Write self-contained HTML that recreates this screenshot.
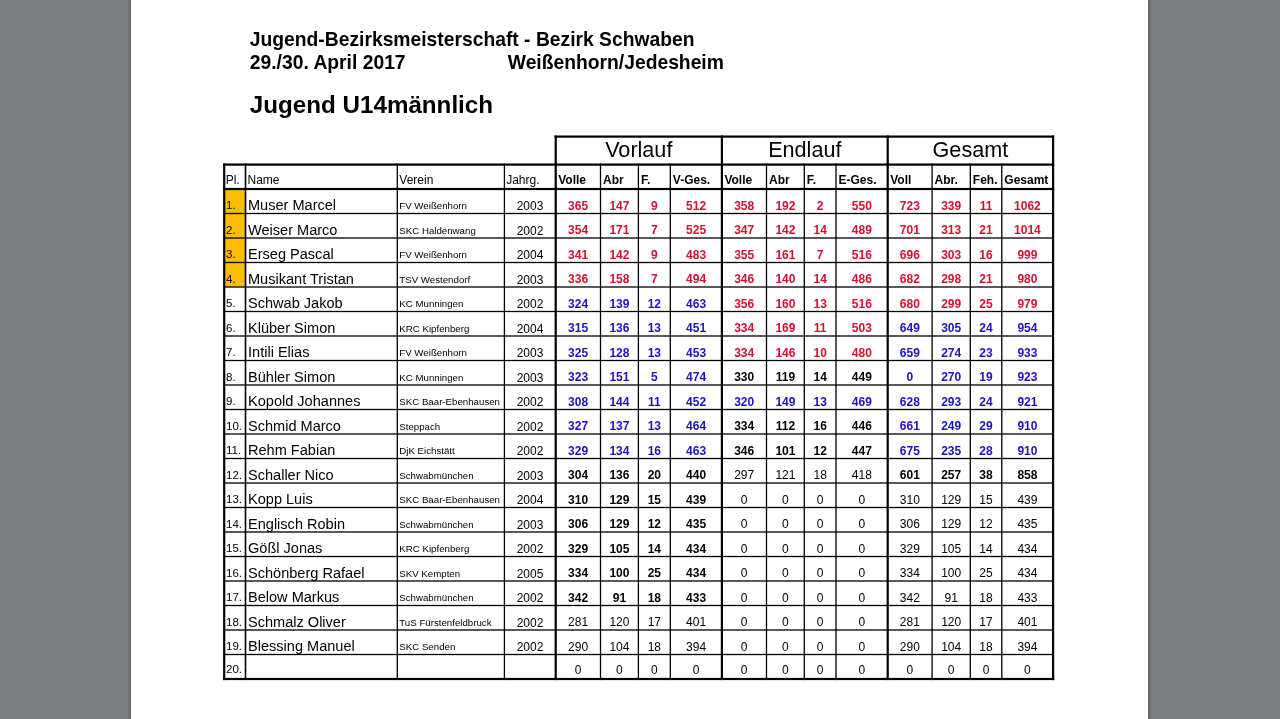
<!DOCTYPE html>
<html><head><meta charset="utf-8"><title>Jugend U14 männlich</title>
<style>
html,body{margin:0;padding:0;}
body{width:1280px;height:719px;overflow:hidden;position:relative;background:#7d7e80;font-family:"Liberation Sans",sans-serif;}
.page{position:absolute;left:131px;top:0;width:1017px;height:719px;background:#fff;}
.shl{position:absolute;left:127px;top:0;width:4px;height:719px;background:linear-gradient(to right,rgba(0,0,0,0),rgba(0,0,0,0.18));}
.shr{position:absolute;left:1148px;top:0;width:4px;height:719px;background:linear-gradient(to left,rgba(0,0,0,0),rgba(0,0,0,0.18));}
.t{position:absolute;white-space:pre;color:#000;}
svg{position:absolute;left:0;top:0;}
#wrap{position:absolute;left:0;top:0;width:1280px;height:719px;will-change:transform;}
</style></head><body>
<div id="wrap">
<div class="shl"></div><div class="shr"></div>
<div class="page"></div>
<div style="position:absolute;left:224.20px;top:189.00px;width:21.30px;height:24.50px;background:#fcbd02"></div><div style="position:absolute;left:224.20px;top:213.50px;width:21.30px;height:24.50px;background:#fcbd02"></div><div style="position:absolute;left:224.20px;top:238.00px;width:21.30px;height:24.50px;background:#fcbd02"></div><div style="position:absolute;left:224.20px;top:262.50px;width:21.30px;height:24.50px;background:#fcbd02"></div>
<svg width="1280" height="719" viewBox="0 0 1280 719" fill="#000"><rect x="554.60" y="135.50" width="499.60" height="2.20"/><rect x="554.60" y="135.50" width="2.20" height="29.10"/><rect x="720.80" y="135.50" width="2.20" height="29.10"/><rect x="886.60" y="135.50" width="2.20" height="29.10"/><rect x="1052.00" y="135.50" width="2.20" height="29.10"/><rect x="223.10" y="163.50" width="831.10" height="2.20"/><rect x="223.10" y="187.90" width="831.10" height="2.20"/><rect x="223.10" y="677.90" width="831.10" height="2.20"/><rect x="224.20" y="212.85" width="828.90" height="1.30"/><rect x="224.20" y="237.35" width="828.90" height="1.30"/><rect x="224.20" y="261.85" width="828.90" height="1.30"/><rect x="224.20" y="286.35" width="828.90" height="1.30"/><rect x="224.20" y="310.85" width="828.90" height="1.30"/><rect x="224.20" y="335.35" width="828.90" height="1.30"/><rect x="224.20" y="359.85" width="828.90" height="1.30"/><rect x="224.20" y="384.35" width="828.90" height="1.30"/><rect x="224.20" y="408.85" width="828.90" height="1.30"/><rect x="224.20" y="433.35" width="828.90" height="1.30"/><rect x="224.20" y="457.85" width="828.90" height="1.30"/><rect x="224.20" y="482.35" width="828.90" height="1.30"/><rect x="224.20" y="506.85" width="828.90" height="1.30"/><rect x="224.20" y="531.35" width="828.90" height="1.30"/><rect x="224.20" y="555.85" width="828.90" height="1.30"/><rect x="224.20" y="580.35" width="828.90" height="1.30"/><rect x="224.20" y="604.85" width="828.90" height="1.30"/><rect x="224.20" y="629.35" width="828.90" height="1.30"/><rect x="224.20" y="653.85" width="828.90" height="1.30"/><rect x="223.10" y="163.50" width="2.20" height="516.60"/><rect x="244.70" y="163.50" width="1.60" height="516.60"/><rect x="396.65" y="163.50" width="1.30" height="516.60"/><rect x="503.75" y="163.50" width="1.30" height="516.60"/><rect x="554.60" y="163.50" width="2.20" height="516.60"/><rect x="599.85" y="163.50" width="1.30" height="516.60"/><rect x="637.75" y="163.50" width="1.30" height="516.60"/><rect x="669.65" y="163.50" width="1.30" height="516.60"/><rect x="720.80" y="163.50" width="2.20" height="516.60"/><rect x="765.85" y="163.50" width="1.30" height="516.60"/><rect x="803.65" y="163.50" width="1.30" height="516.60"/><rect x="835.35" y="163.50" width="1.30" height="516.60"/><rect x="886.60" y="163.50" width="2.20" height="516.60"/><rect x="931.45" y="163.50" width="1.30" height="516.60"/><rect x="969.65" y="163.50" width="1.30" height="516.60"/><rect x="1001.15" y="163.50" width="1.30" height="516.60"/><rect x="1052.00" y="163.50" width="2.20" height="516.60"/></svg>
<div class="t" style="left:249.80px;top:29.56px;font-size:19.3px;line-height:19.3px;font-weight:bold;">Jugend-Bezirksmeisterschaft - Bezirk Schwaben</div><div class="t" style="left:249.80px;top:53.46px;font-size:19.3px;line-height:19.3px;font-weight:bold;">29./30. April 2017</div><div class="t" style="left:507.80px;top:53.46px;font-size:19.3px;line-height:19.3px;font-weight:bold;">Weißenhorn/Jedesheim</div><div class="t" style="left:249.80px;top:92.51px;font-size:24.2px;line-height:24.2px;font-weight:bold;">Jugend U14männlich</div><div class="t" style="left:555.70px;top:138.72px;font-size:21.6px;line-height:21.6px;width:166.20px;text-align:center;">Vorlauf</div><div class="t" style="left:721.90px;top:138.72px;font-size:21.6px;line-height:21.6px;width:165.80px;text-align:center;">Endlauf</div><div class="t" style="left:887.70px;top:138.72px;font-size:21.6px;line-height:21.6px;width:165.40px;text-align:center;">Gesamt</div><div class="t" style="left:225.70px;top:173.84px;font-size:12px;line-height:12px;">Pl.</div><div class="t" style="left:247.50px;top:173.84px;font-size:12px;line-height:12px;">Name</div><div class="t" style="left:399.30px;top:173.84px;font-size:12px;line-height:12px;">Verein</div><div class="t" style="left:506.20px;top:173.84px;font-size:12px;line-height:12px;">Jahrg.</div><div class="t" style="left:558.20px;top:173.84px;font-size:12px;line-height:12px;font-weight:bold;">Volle</div><div class="t" style="left:603.00px;top:173.84px;font-size:12px;line-height:12px;font-weight:bold;">Abr</div><div class="t" style="left:640.90px;top:173.84px;font-size:12px;line-height:12px;font-weight:bold;">F.</div><div class="t" style="left:672.80px;top:173.84px;font-size:12px;line-height:12px;font-weight:bold;">V-Ges.</div><div class="t" style="left:724.40px;top:173.84px;font-size:12px;line-height:12px;font-weight:bold;">Volle</div><div class="t" style="left:769.00px;top:173.84px;font-size:12px;line-height:12px;font-weight:bold;">Abr</div><div class="t" style="left:806.80px;top:173.84px;font-size:12px;line-height:12px;font-weight:bold;">F.</div><div class="t" style="left:838.50px;top:173.84px;font-size:12px;line-height:12px;font-weight:bold;">E-Ges.</div><div class="t" style="left:890.20px;top:173.84px;font-size:12px;line-height:12px;font-weight:bold;">Voll</div><div class="t" style="left:934.60px;top:173.84px;font-size:12px;line-height:12px;font-weight:bold;">Abr.</div><div class="t" style="left:972.80px;top:173.84px;font-size:12px;line-height:12px;font-weight:bold;">Feh.</div><div class="t" style="left:1004.30px;top:173.84px;font-size:12px;line-height:12px;font-weight:bold;">Gesamt</div><div class="t" style="left:226.00px;top:200.07px;font-size:11.5px;line-height:11.5px;">1.</div><div class="t" style="left:248.00px;top:198.18px;font-size:14.55px;line-height:14.55px;">Muser Marcel</div><div class="t" style="left:399.30px;top:201.49px;font-size:9.7px;line-height:9.7px;">FV Weißenhorn</div><div class="t" style="left:504.40px;top:200.44px;font-size:12px;line-height:12px;width:51.30px;text-align:center;">2003</div><div class="t" style="left:555.70px;top:199.64px;font-size:12px;line-height:12px;font-weight:bold;color:#d31230;width:44.80px;text-align:center;">365</div><div class="t" style="left:600.50px;top:199.64px;font-size:12px;line-height:12px;font-weight:bold;color:#d31230;width:37.90px;text-align:center;">147</div><div class="t" style="left:638.40px;top:199.64px;font-size:12px;line-height:12px;font-weight:bold;color:#d31230;width:31.90px;text-align:center;">9</div><div class="t" style="left:670.30px;top:199.64px;font-size:12px;line-height:12px;font-weight:bold;color:#d31230;width:51.60px;text-align:center;">512</div><div class="t" style="left:721.90px;top:199.64px;font-size:12px;line-height:12px;font-weight:bold;color:#d31230;width:44.60px;text-align:center;">358</div><div class="t" style="left:766.50px;top:199.64px;font-size:12px;line-height:12px;font-weight:bold;color:#d31230;width:37.80px;text-align:center;">192</div><div class="t" style="left:804.30px;top:199.64px;font-size:12px;line-height:12px;font-weight:bold;color:#d31230;width:31.70px;text-align:center;">2</div><div class="t" style="left:836.00px;top:199.64px;font-size:12px;line-height:12px;font-weight:bold;color:#d31230;width:51.70px;text-align:center;">550</div><div class="t" style="left:887.70px;top:199.64px;font-size:12px;line-height:12px;font-weight:bold;color:#d31230;width:44.40px;text-align:center;">723</div><div class="t" style="left:932.10px;top:199.64px;font-size:12px;line-height:12px;font-weight:bold;color:#d31230;width:38.20px;text-align:center;">339</div><div class="t" style="left:970.30px;top:199.64px;font-size:12px;line-height:12px;font-weight:bold;color:#d31230;width:31.50px;text-align:center;">11</div><div class="t" style="left:1001.80px;top:199.64px;font-size:12px;line-height:12px;font-weight:bold;color:#d31230;width:51.30px;text-align:center;">1062</div><div class="t" style="left:226.00px;top:224.57px;font-size:11.5px;line-height:11.5px;">2.</div><div class="t" style="left:248.00px;top:222.68px;font-size:14.55px;line-height:14.55px;">Weiser Marco</div><div class="t" style="left:399.30px;top:225.99px;font-size:9.7px;line-height:9.7px;">SKC Haldenwang</div><div class="t" style="left:504.40px;top:224.94px;font-size:12px;line-height:12px;width:51.30px;text-align:center;">2002</div><div class="t" style="left:555.70px;top:224.14px;font-size:12px;line-height:12px;font-weight:bold;color:#d31230;width:44.80px;text-align:center;">354</div><div class="t" style="left:600.50px;top:224.14px;font-size:12px;line-height:12px;font-weight:bold;color:#d31230;width:37.90px;text-align:center;">171</div><div class="t" style="left:638.40px;top:224.14px;font-size:12px;line-height:12px;font-weight:bold;color:#d31230;width:31.90px;text-align:center;">7</div><div class="t" style="left:670.30px;top:224.14px;font-size:12px;line-height:12px;font-weight:bold;color:#d31230;width:51.60px;text-align:center;">525</div><div class="t" style="left:721.90px;top:224.14px;font-size:12px;line-height:12px;font-weight:bold;color:#d31230;width:44.60px;text-align:center;">347</div><div class="t" style="left:766.50px;top:224.14px;font-size:12px;line-height:12px;font-weight:bold;color:#d31230;width:37.80px;text-align:center;">142</div><div class="t" style="left:804.30px;top:224.14px;font-size:12px;line-height:12px;font-weight:bold;color:#d31230;width:31.70px;text-align:center;">14</div><div class="t" style="left:836.00px;top:224.14px;font-size:12px;line-height:12px;font-weight:bold;color:#d31230;width:51.70px;text-align:center;">489</div><div class="t" style="left:887.70px;top:224.14px;font-size:12px;line-height:12px;font-weight:bold;color:#d31230;width:44.40px;text-align:center;">701</div><div class="t" style="left:932.10px;top:224.14px;font-size:12px;line-height:12px;font-weight:bold;color:#d31230;width:38.20px;text-align:center;">313</div><div class="t" style="left:970.30px;top:224.14px;font-size:12px;line-height:12px;font-weight:bold;color:#d31230;width:31.50px;text-align:center;">21</div><div class="t" style="left:1001.80px;top:224.14px;font-size:12px;line-height:12px;font-weight:bold;color:#d31230;width:51.30px;text-align:center;">1014</div><div class="t" style="left:226.00px;top:249.07px;font-size:11.5px;line-height:11.5px;">3.</div><div class="t" style="left:248.00px;top:247.18px;font-size:14.55px;line-height:14.55px;">Erseg Pascal</div><div class="t" style="left:399.30px;top:250.49px;font-size:9.7px;line-height:9.7px;">FV Weißenhorn</div><div class="t" style="left:504.40px;top:249.44px;font-size:12px;line-height:12px;width:51.30px;text-align:center;">2004</div><div class="t" style="left:555.70px;top:248.64px;font-size:12px;line-height:12px;font-weight:bold;color:#d31230;width:44.80px;text-align:center;">341</div><div class="t" style="left:600.50px;top:248.64px;font-size:12px;line-height:12px;font-weight:bold;color:#d31230;width:37.90px;text-align:center;">142</div><div class="t" style="left:638.40px;top:248.64px;font-size:12px;line-height:12px;font-weight:bold;color:#d31230;width:31.90px;text-align:center;">9</div><div class="t" style="left:670.30px;top:248.64px;font-size:12px;line-height:12px;font-weight:bold;color:#d31230;width:51.60px;text-align:center;">483</div><div class="t" style="left:721.90px;top:248.64px;font-size:12px;line-height:12px;font-weight:bold;color:#d31230;width:44.60px;text-align:center;">355</div><div class="t" style="left:766.50px;top:248.64px;font-size:12px;line-height:12px;font-weight:bold;color:#d31230;width:37.80px;text-align:center;">161</div><div class="t" style="left:804.30px;top:248.64px;font-size:12px;line-height:12px;font-weight:bold;color:#d31230;width:31.70px;text-align:center;">7</div><div class="t" style="left:836.00px;top:248.64px;font-size:12px;line-height:12px;font-weight:bold;color:#d31230;width:51.70px;text-align:center;">516</div><div class="t" style="left:887.70px;top:248.64px;font-size:12px;line-height:12px;font-weight:bold;color:#d31230;width:44.40px;text-align:center;">696</div><div class="t" style="left:932.10px;top:248.64px;font-size:12px;line-height:12px;font-weight:bold;color:#d31230;width:38.20px;text-align:center;">303</div><div class="t" style="left:970.30px;top:248.64px;font-size:12px;line-height:12px;font-weight:bold;color:#d31230;width:31.50px;text-align:center;">16</div><div class="t" style="left:1001.80px;top:248.64px;font-size:12px;line-height:12px;font-weight:bold;color:#d31230;width:51.30px;text-align:center;">999</div><div class="t" style="left:226.00px;top:273.57px;font-size:11.5px;line-height:11.5px;">4.</div><div class="t" style="left:248.00px;top:271.68px;font-size:14.55px;line-height:14.55px;">Musikant Tristan</div><div class="t" style="left:399.30px;top:274.99px;font-size:9.7px;line-height:9.7px;">TSV Westendorf</div><div class="t" style="left:504.40px;top:273.94px;font-size:12px;line-height:12px;width:51.30px;text-align:center;">2003</div><div class="t" style="left:555.70px;top:273.14px;font-size:12px;line-height:12px;font-weight:bold;color:#d31230;width:44.80px;text-align:center;">336</div><div class="t" style="left:600.50px;top:273.14px;font-size:12px;line-height:12px;font-weight:bold;color:#d31230;width:37.90px;text-align:center;">158</div><div class="t" style="left:638.40px;top:273.14px;font-size:12px;line-height:12px;font-weight:bold;color:#d31230;width:31.90px;text-align:center;">7</div><div class="t" style="left:670.30px;top:273.14px;font-size:12px;line-height:12px;font-weight:bold;color:#d31230;width:51.60px;text-align:center;">494</div><div class="t" style="left:721.90px;top:273.14px;font-size:12px;line-height:12px;font-weight:bold;color:#d31230;width:44.60px;text-align:center;">346</div><div class="t" style="left:766.50px;top:273.14px;font-size:12px;line-height:12px;font-weight:bold;color:#d31230;width:37.80px;text-align:center;">140</div><div class="t" style="left:804.30px;top:273.14px;font-size:12px;line-height:12px;font-weight:bold;color:#d31230;width:31.70px;text-align:center;">14</div><div class="t" style="left:836.00px;top:273.14px;font-size:12px;line-height:12px;font-weight:bold;color:#d31230;width:51.70px;text-align:center;">486</div><div class="t" style="left:887.70px;top:273.14px;font-size:12px;line-height:12px;font-weight:bold;color:#d31230;width:44.40px;text-align:center;">682</div><div class="t" style="left:932.10px;top:273.14px;font-size:12px;line-height:12px;font-weight:bold;color:#d31230;width:38.20px;text-align:center;">298</div><div class="t" style="left:970.30px;top:273.14px;font-size:12px;line-height:12px;font-weight:bold;color:#d31230;width:31.50px;text-align:center;">21</div><div class="t" style="left:1001.80px;top:273.14px;font-size:12px;line-height:12px;font-weight:bold;color:#d31230;width:51.30px;text-align:center;">980</div><div class="t" style="left:226.00px;top:298.07px;font-size:11.5px;line-height:11.5px;">5.</div><div class="t" style="left:248.00px;top:296.18px;font-size:14.55px;line-height:14.55px;">Schwab Jakob</div><div class="t" style="left:399.30px;top:299.49px;font-size:9.7px;line-height:9.7px;">KC Munningen</div><div class="t" style="left:504.40px;top:298.44px;font-size:12px;line-height:12px;width:51.30px;text-align:center;">2002</div><div class="t" style="left:555.70px;top:297.64px;font-size:12px;line-height:12px;font-weight:bold;color:#1c12c2;width:44.80px;text-align:center;">324</div><div class="t" style="left:600.50px;top:297.64px;font-size:12px;line-height:12px;font-weight:bold;color:#1c12c2;width:37.90px;text-align:center;">139</div><div class="t" style="left:638.40px;top:297.64px;font-size:12px;line-height:12px;font-weight:bold;color:#1c12c2;width:31.90px;text-align:center;">12</div><div class="t" style="left:670.30px;top:297.64px;font-size:12px;line-height:12px;font-weight:bold;color:#1c12c2;width:51.60px;text-align:center;">463</div><div class="t" style="left:721.90px;top:297.64px;font-size:12px;line-height:12px;font-weight:bold;color:#d31230;width:44.60px;text-align:center;">356</div><div class="t" style="left:766.50px;top:297.64px;font-size:12px;line-height:12px;font-weight:bold;color:#d31230;width:37.80px;text-align:center;">160</div><div class="t" style="left:804.30px;top:297.64px;font-size:12px;line-height:12px;font-weight:bold;color:#d31230;width:31.70px;text-align:center;">13</div><div class="t" style="left:836.00px;top:297.64px;font-size:12px;line-height:12px;font-weight:bold;color:#d31230;width:51.70px;text-align:center;">516</div><div class="t" style="left:887.70px;top:297.64px;font-size:12px;line-height:12px;font-weight:bold;color:#d31230;width:44.40px;text-align:center;">680</div><div class="t" style="left:932.10px;top:297.64px;font-size:12px;line-height:12px;font-weight:bold;color:#d31230;width:38.20px;text-align:center;">299</div><div class="t" style="left:970.30px;top:297.64px;font-size:12px;line-height:12px;font-weight:bold;color:#d31230;width:31.50px;text-align:center;">25</div><div class="t" style="left:1001.80px;top:297.64px;font-size:12px;line-height:12px;font-weight:bold;color:#d31230;width:51.30px;text-align:center;">979</div><div class="t" style="left:226.00px;top:322.57px;font-size:11.5px;line-height:11.5px;">6.</div><div class="t" style="left:248.00px;top:320.68px;font-size:14.55px;line-height:14.55px;">Klüber Simon</div><div class="t" style="left:399.30px;top:323.99px;font-size:9.7px;line-height:9.7px;">KRC Kipfenberg</div><div class="t" style="left:504.40px;top:322.94px;font-size:12px;line-height:12px;width:51.30px;text-align:center;">2004</div><div class="t" style="left:555.70px;top:322.14px;font-size:12px;line-height:12px;font-weight:bold;color:#1c12c2;width:44.80px;text-align:center;">315</div><div class="t" style="left:600.50px;top:322.14px;font-size:12px;line-height:12px;font-weight:bold;color:#1c12c2;width:37.90px;text-align:center;">136</div><div class="t" style="left:638.40px;top:322.14px;font-size:12px;line-height:12px;font-weight:bold;color:#1c12c2;width:31.90px;text-align:center;">13</div><div class="t" style="left:670.30px;top:322.14px;font-size:12px;line-height:12px;font-weight:bold;color:#1c12c2;width:51.60px;text-align:center;">451</div><div class="t" style="left:721.90px;top:322.14px;font-size:12px;line-height:12px;font-weight:bold;color:#d31230;width:44.60px;text-align:center;">334</div><div class="t" style="left:766.50px;top:322.14px;font-size:12px;line-height:12px;font-weight:bold;color:#d31230;width:37.80px;text-align:center;">169</div><div class="t" style="left:804.30px;top:322.14px;font-size:12px;line-height:12px;font-weight:bold;color:#d31230;width:31.70px;text-align:center;">11</div><div class="t" style="left:836.00px;top:322.14px;font-size:12px;line-height:12px;font-weight:bold;color:#d31230;width:51.70px;text-align:center;">503</div><div class="t" style="left:887.70px;top:322.14px;font-size:12px;line-height:12px;font-weight:bold;color:#1c12c2;width:44.40px;text-align:center;">649</div><div class="t" style="left:932.10px;top:322.14px;font-size:12px;line-height:12px;font-weight:bold;color:#1c12c2;width:38.20px;text-align:center;">305</div><div class="t" style="left:970.30px;top:322.14px;font-size:12px;line-height:12px;font-weight:bold;color:#1c12c2;width:31.50px;text-align:center;">24</div><div class="t" style="left:1001.80px;top:322.14px;font-size:12px;line-height:12px;font-weight:bold;color:#1c12c2;width:51.30px;text-align:center;">954</div><div class="t" style="left:226.00px;top:347.07px;font-size:11.5px;line-height:11.5px;">7.</div><div class="t" style="left:248.00px;top:345.18px;font-size:14.55px;line-height:14.55px;">Intili Elias</div><div class="t" style="left:399.30px;top:348.49px;font-size:9.7px;line-height:9.7px;">FV Weißenhorn</div><div class="t" style="left:504.40px;top:347.44px;font-size:12px;line-height:12px;width:51.30px;text-align:center;">2003</div><div class="t" style="left:555.70px;top:346.64px;font-size:12px;line-height:12px;font-weight:bold;color:#1c12c2;width:44.80px;text-align:center;">325</div><div class="t" style="left:600.50px;top:346.64px;font-size:12px;line-height:12px;font-weight:bold;color:#1c12c2;width:37.90px;text-align:center;">128</div><div class="t" style="left:638.40px;top:346.64px;font-size:12px;line-height:12px;font-weight:bold;color:#1c12c2;width:31.90px;text-align:center;">13</div><div class="t" style="left:670.30px;top:346.64px;font-size:12px;line-height:12px;font-weight:bold;color:#1c12c2;width:51.60px;text-align:center;">453</div><div class="t" style="left:721.90px;top:346.64px;font-size:12px;line-height:12px;font-weight:bold;color:#d31230;width:44.60px;text-align:center;">334</div><div class="t" style="left:766.50px;top:346.64px;font-size:12px;line-height:12px;font-weight:bold;color:#d31230;width:37.80px;text-align:center;">146</div><div class="t" style="left:804.30px;top:346.64px;font-size:12px;line-height:12px;font-weight:bold;color:#d31230;width:31.70px;text-align:center;">10</div><div class="t" style="left:836.00px;top:346.64px;font-size:12px;line-height:12px;font-weight:bold;color:#d31230;width:51.70px;text-align:center;">480</div><div class="t" style="left:887.70px;top:346.64px;font-size:12px;line-height:12px;font-weight:bold;color:#1c12c2;width:44.40px;text-align:center;">659</div><div class="t" style="left:932.10px;top:346.64px;font-size:12px;line-height:12px;font-weight:bold;color:#1c12c2;width:38.20px;text-align:center;">274</div><div class="t" style="left:970.30px;top:346.64px;font-size:12px;line-height:12px;font-weight:bold;color:#1c12c2;width:31.50px;text-align:center;">23</div><div class="t" style="left:1001.80px;top:346.64px;font-size:12px;line-height:12px;font-weight:bold;color:#1c12c2;width:51.30px;text-align:center;">933</div><div class="t" style="left:226.00px;top:371.57px;font-size:11.5px;line-height:11.5px;">8.</div><div class="t" style="left:248.00px;top:369.68px;font-size:14.55px;line-height:14.55px;">Bühler Simon</div><div class="t" style="left:399.30px;top:372.99px;font-size:9.7px;line-height:9.7px;">KC Munningen</div><div class="t" style="left:504.40px;top:371.94px;font-size:12px;line-height:12px;width:51.30px;text-align:center;">2003</div><div class="t" style="left:555.70px;top:371.14px;font-size:12px;line-height:12px;font-weight:bold;color:#1c12c2;width:44.80px;text-align:center;">323</div><div class="t" style="left:600.50px;top:371.14px;font-size:12px;line-height:12px;font-weight:bold;color:#1c12c2;width:37.90px;text-align:center;">151</div><div class="t" style="left:638.40px;top:371.14px;font-size:12px;line-height:12px;font-weight:bold;color:#1c12c2;width:31.90px;text-align:center;">5</div><div class="t" style="left:670.30px;top:371.14px;font-size:12px;line-height:12px;font-weight:bold;color:#1c12c2;width:51.60px;text-align:center;">474</div><div class="t" style="left:721.90px;top:371.14px;font-size:12px;line-height:12px;font-weight:bold;width:44.60px;text-align:center;">330</div><div class="t" style="left:766.50px;top:371.14px;font-size:12px;line-height:12px;font-weight:bold;width:37.80px;text-align:center;">119</div><div class="t" style="left:804.30px;top:371.14px;font-size:12px;line-height:12px;font-weight:bold;width:31.70px;text-align:center;">14</div><div class="t" style="left:836.00px;top:371.14px;font-size:12px;line-height:12px;font-weight:bold;width:51.70px;text-align:center;">449</div><div class="t" style="left:887.70px;top:371.14px;font-size:12px;line-height:12px;font-weight:bold;color:#1c12c2;width:44.40px;text-align:center;">0</div><div class="t" style="left:932.10px;top:371.14px;font-size:12px;line-height:12px;font-weight:bold;color:#1c12c2;width:38.20px;text-align:center;">270</div><div class="t" style="left:970.30px;top:371.14px;font-size:12px;line-height:12px;font-weight:bold;color:#1c12c2;width:31.50px;text-align:center;">19</div><div class="t" style="left:1001.80px;top:371.14px;font-size:12px;line-height:12px;font-weight:bold;color:#1c12c2;width:51.30px;text-align:center;">923</div><div class="t" style="left:226.00px;top:396.07px;font-size:11.5px;line-height:11.5px;">9.</div><div class="t" style="left:248.00px;top:394.18px;font-size:14.55px;line-height:14.55px;">Kopold Johannes</div><div class="t" style="left:399.30px;top:397.49px;font-size:9.7px;line-height:9.7px;">SKC Baar-Ebenhausen</div><div class="t" style="left:504.40px;top:396.44px;font-size:12px;line-height:12px;width:51.30px;text-align:center;">2002</div><div class="t" style="left:555.70px;top:395.64px;font-size:12px;line-height:12px;font-weight:bold;color:#1c12c2;width:44.80px;text-align:center;">308</div><div class="t" style="left:600.50px;top:395.64px;font-size:12px;line-height:12px;font-weight:bold;color:#1c12c2;width:37.90px;text-align:center;">144</div><div class="t" style="left:638.40px;top:395.64px;font-size:12px;line-height:12px;font-weight:bold;color:#1c12c2;width:31.90px;text-align:center;">11</div><div class="t" style="left:670.30px;top:395.64px;font-size:12px;line-height:12px;font-weight:bold;color:#1c12c2;width:51.60px;text-align:center;">452</div><div class="t" style="left:721.90px;top:395.64px;font-size:12px;line-height:12px;font-weight:bold;color:#1c12c2;width:44.60px;text-align:center;">320</div><div class="t" style="left:766.50px;top:395.64px;font-size:12px;line-height:12px;font-weight:bold;color:#1c12c2;width:37.80px;text-align:center;">149</div><div class="t" style="left:804.30px;top:395.64px;font-size:12px;line-height:12px;font-weight:bold;color:#1c12c2;width:31.70px;text-align:center;">13</div><div class="t" style="left:836.00px;top:395.64px;font-size:12px;line-height:12px;font-weight:bold;color:#1c12c2;width:51.70px;text-align:center;">469</div><div class="t" style="left:887.70px;top:395.64px;font-size:12px;line-height:12px;font-weight:bold;color:#1c12c2;width:44.40px;text-align:center;">628</div><div class="t" style="left:932.10px;top:395.64px;font-size:12px;line-height:12px;font-weight:bold;color:#1c12c2;width:38.20px;text-align:center;">293</div><div class="t" style="left:970.30px;top:395.64px;font-size:12px;line-height:12px;font-weight:bold;color:#1c12c2;width:31.50px;text-align:center;">24</div><div class="t" style="left:1001.80px;top:395.64px;font-size:12px;line-height:12px;font-weight:bold;color:#1c12c2;width:51.30px;text-align:center;">921</div><div class="t" style="left:226.00px;top:420.57px;font-size:11.5px;line-height:11.5px;">10.</div><div class="t" style="left:248.00px;top:418.68px;font-size:14.55px;line-height:14.55px;">Schmid Marco</div><div class="t" style="left:399.30px;top:421.99px;font-size:9.7px;line-height:9.7px;">Steppach</div><div class="t" style="left:504.40px;top:420.94px;font-size:12px;line-height:12px;width:51.30px;text-align:center;">2002</div><div class="t" style="left:555.70px;top:420.14px;font-size:12px;line-height:12px;font-weight:bold;color:#1c12c2;width:44.80px;text-align:center;">327</div><div class="t" style="left:600.50px;top:420.14px;font-size:12px;line-height:12px;font-weight:bold;color:#1c12c2;width:37.90px;text-align:center;">137</div><div class="t" style="left:638.40px;top:420.14px;font-size:12px;line-height:12px;font-weight:bold;color:#1c12c2;width:31.90px;text-align:center;">13</div><div class="t" style="left:670.30px;top:420.14px;font-size:12px;line-height:12px;font-weight:bold;color:#1c12c2;width:51.60px;text-align:center;">464</div><div class="t" style="left:721.90px;top:420.14px;font-size:12px;line-height:12px;font-weight:bold;width:44.60px;text-align:center;">334</div><div class="t" style="left:766.50px;top:420.14px;font-size:12px;line-height:12px;font-weight:bold;width:37.80px;text-align:center;">112</div><div class="t" style="left:804.30px;top:420.14px;font-size:12px;line-height:12px;font-weight:bold;width:31.70px;text-align:center;">16</div><div class="t" style="left:836.00px;top:420.14px;font-size:12px;line-height:12px;font-weight:bold;width:51.70px;text-align:center;">446</div><div class="t" style="left:887.70px;top:420.14px;font-size:12px;line-height:12px;font-weight:bold;color:#1c12c2;width:44.40px;text-align:center;">661</div><div class="t" style="left:932.10px;top:420.14px;font-size:12px;line-height:12px;font-weight:bold;color:#1c12c2;width:38.20px;text-align:center;">249</div><div class="t" style="left:970.30px;top:420.14px;font-size:12px;line-height:12px;font-weight:bold;color:#1c12c2;width:31.50px;text-align:center;">29</div><div class="t" style="left:1001.80px;top:420.14px;font-size:12px;line-height:12px;font-weight:bold;color:#1c12c2;width:51.30px;text-align:center;">910</div><div class="t" style="left:226.00px;top:445.07px;font-size:11.5px;line-height:11.5px;">11.</div><div class="t" style="left:248.00px;top:443.18px;font-size:14.55px;line-height:14.55px;">Rehm Fabian</div><div class="t" style="left:399.30px;top:446.49px;font-size:9.7px;line-height:9.7px;">DjK Eichstätt</div><div class="t" style="left:504.40px;top:445.44px;font-size:12px;line-height:12px;width:51.30px;text-align:center;">2002</div><div class="t" style="left:555.70px;top:444.64px;font-size:12px;line-height:12px;font-weight:bold;color:#1c12c2;width:44.80px;text-align:center;">329</div><div class="t" style="left:600.50px;top:444.64px;font-size:12px;line-height:12px;font-weight:bold;color:#1c12c2;width:37.90px;text-align:center;">134</div><div class="t" style="left:638.40px;top:444.64px;font-size:12px;line-height:12px;font-weight:bold;color:#1c12c2;width:31.90px;text-align:center;">16</div><div class="t" style="left:670.30px;top:444.64px;font-size:12px;line-height:12px;font-weight:bold;color:#1c12c2;width:51.60px;text-align:center;">463</div><div class="t" style="left:721.90px;top:444.64px;font-size:12px;line-height:12px;font-weight:bold;width:44.60px;text-align:center;">346</div><div class="t" style="left:766.50px;top:444.64px;font-size:12px;line-height:12px;font-weight:bold;width:37.80px;text-align:center;">101</div><div class="t" style="left:804.30px;top:444.64px;font-size:12px;line-height:12px;font-weight:bold;width:31.70px;text-align:center;">12</div><div class="t" style="left:836.00px;top:444.64px;font-size:12px;line-height:12px;font-weight:bold;width:51.70px;text-align:center;">447</div><div class="t" style="left:887.70px;top:444.64px;font-size:12px;line-height:12px;font-weight:bold;color:#1c12c2;width:44.40px;text-align:center;">675</div><div class="t" style="left:932.10px;top:444.64px;font-size:12px;line-height:12px;font-weight:bold;color:#1c12c2;width:38.20px;text-align:center;">235</div><div class="t" style="left:970.30px;top:444.64px;font-size:12px;line-height:12px;font-weight:bold;color:#1c12c2;width:31.50px;text-align:center;">28</div><div class="t" style="left:1001.80px;top:444.64px;font-size:12px;line-height:12px;font-weight:bold;color:#1c12c2;width:51.30px;text-align:center;">910</div><div class="t" style="left:226.00px;top:469.57px;font-size:11.5px;line-height:11.5px;">12.</div><div class="t" style="left:248.00px;top:467.68px;font-size:14.55px;line-height:14.55px;">Schaller Nico</div><div class="t" style="left:399.30px;top:470.99px;font-size:9.7px;line-height:9.7px;">Schwabmünchen</div><div class="t" style="left:504.40px;top:469.94px;font-size:12px;line-height:12px;width:51.30px;text-align:center;">2003</div><div class="t" style="left:555.70px;top:469.14px;font-size:12px;line-height:12px;font-weight:bold;width:44.80px;text-align:center;">304</div><div class="t" style="left:600.50px;top:469.14px;font-size:12px;line-height:12px;font-weight:bold;width:37.90px;text-align:center;">136</div><div class="t" style="left:638.40px;top:469.14px;font-size:12px;line-height:12px;font-weight:bold;width:31.90px;text-align:center;">20</div><div class="t" style="left:670.30px;top:469.14px;font-size:12px;line-height:12px;font-weight:bold;width:51.60px;text-align:center;">440</div><div class="t" style="left:721.90px;top:469.14px;font-size:12px;line-height:12px;width:44.60px;text-align:center;">297</div><div class="t" style="left:766.50px;top:469.14px;font-size:12px;line-height:12px;width:37.80px;text-align:center;">121</div><div class="t" style="left:804.30px;top:469.14px;font-size:12px;line-height:12px;width:31.70px;text-align:center;">18</div><div class="t" style="left:836.00px;top:469.14px;font-size:12px;line-height:12px;width:51.70px;text-align:center;">418</div><div class="t" style="left:887.70px;top:469.14px;font-size:12px;line-height:12px;font-weight:bold;width:44.40px;text-align:center;">601</div><div class="t" style="left:932.10px;top:469.14px;font-size:12px;line-height:12px;font-weight:bold;width:38.20px;text-align:center;">257</div><div class="t" style="left:970.30px;top:469.14px;font-size:12px;line-height:12px;font-weight:bold;width:31.50px;text-align:center;">38</div><div class="t" style="left:1001.80px;top:469.14px;font-size:12px;line-height:12px;font-weight:bold;width:51.30px;text-align:center;">858</div><div class="t" style="left:226.00px;top:494.07px;font-size:11.5px;line-height:11.5px;">13.</div><div class="t" style="left:248.00px;top:492.18px;font-size:14.55px;line-height:14.55px;">Kopp Luis</div><div class="t" style="left:399.30px;top:495.49px;font-size:9.7px;line-height:9.7px;">SKC Baar-Ebenhausen</div><div class="t" style="left:504.40px;top:494.44px;font-size:12px;line-height:12px;width:51.30px;text-align:center;">2004</div><div class="t" style="left:555.70px;top:493.64px;font-size:12px;line-height:12px;font-weight:bold;width:44.80px;text-align:center;">310</div><div class="t" style="left:600.50px;top:493.64px;font-size:12px;line-height:12px;font-weight:bold;width:37.90px;text-align:center;">129</div><div class="t" style="left:638.40px;top:493.64px;font-size:12px;line-height:12px;font-weight:bold;width:31.90px;text-align:center;">15</div><div class="t" style="left:670.30px;top:493.64px;font-size:12px;line-height:12px;font-weight:bold;width:51.60px;text-align:center;">439</div><div class="t" style="left:721.90px;top:493.64px;font-size:12px;line-height:12px;width:44.60px;text-align:center;">0</div><div class="t" style="left:766.50px;top:493.64px;font-size:12px;line-height:12px;width:37.80px;text-align:center;">0</div><div class="t" style="left:804.30px;top:493.64px;font-size:12px;line-height:12px;width:31.70px;text-align:center;">0</div><div class="t" style="left:836.00px;top:493.64px;font-size:12px;line-height:12px;width:51.70px;text-align:center;">0</div><div class="t" style="left:887.70px;top:493.64px;font-size:12px;line-height:12px;width:44.40px;text-align:center;">310</div><div class="t" style="left:932.10px;top:493.64px;font-size:12px;line-height:12px;width:38.20px;text-align:center;">129</div><div class="t" style="left:970.30px;top:493.64px;font-size:12px;line-height:12px;width:31.50px;text-align:center;">15</div><div class="t" style="left:1001.80px;top:493.64px;font-size:12px;line-height:12px;width:51.30px;text-align:center;">439</div><div class="t" style="left:226.00px;top:518.57px;font-size:11.5px;line-height:11.5px;">14.</div><div class="t" style="left:248.00px;top:516.68px;font-size:14.55px;line-height:14.55px;">Englisch Robin</div><div class="t" style="left:399.30px;top:519.99px;font-size:9.7px;line-height:9.7px;">Schwabmünchen</div><div class="t" style="left:504.40px;top:518.94px;font-size:12px;line-height:12px;width:51.30px;text-align:center;">2003</div><div class="t" style="left:555.70px;top:518.14px;font-size:12px;line-height:12px;font-weight:bold;width:44.80px;text-align:center;">306</div><div class="t" style="left:600.50px;top:518.14px;font-size:12px;line-height:12px;font-weight:bold;width:37.90px;text-align:center;">129</div><div class="t" style="left:638.40px;top:518.14px;font-size:12px;line-height:12px;font-weight:bold;width:31.90px;text-align:center;">12</div><div class="t" style="left:670.30px;top:518.14px;font-size:12px;line-height:12px;font-weight:bold;width:51.60px;text-align:center;">435</div><div class="t" style="left:721.90px;top:518.14px;font-size:12px;line-height:12px;width:44.60px;text-align:center;">0</div><div class="t" style="left:766.50px;top:518.14px;font-size:12px;line-height:12px;width:37.80px;text-align:center;">0</div><div class="t" style="left:804.30px;top:518.14px;font-size:12px;line-height:12px;width:31.70px;text-align:center;">0</div><div class="t" style="left:836.00px;top:518.14px;font-size:12px;line-height:12px;width:51.70px;text-align:center;">0</div><div class="t" style="left:887.70px;top:518.14px;font-size:12px;line-height:12px;width:44.40px;text-align:center;">306</div><div class="t" style="left:932.10px;top:518.14px;font-size:12px;line-height:12px;width:38.20px;text-align:center;">129</div><div class="t" style="left:970.30px;top:518.14px;font-size:12px;line-height:12px;width:31.50px;text-align:center;">12</div><div class="t" style="left:1001.80px;top:518.14px;font-size:12px;line-height:12px;width:51.30px;text-align:center;">435</div><div class="t" style="left:226.00px;top:543.07px;font-size:11.5px;line-height:11.5px;">15.</div><div class="t" style="left:248.00px;top:541.18px;font-size:14.55px;line-height:14.55px;">Gößl Jonas</div><div class="t" style="left:399.30px;top:544.49px;font-size:9.7px;line-height:9.7px;">KRC Kipfenberg</div><div class="t" style="left:504.40px;top:543.44px;font-size:12px;line-height:12px;width:51.30px;text-align:center;">2002</div><div class="t" style="left:555.70px;top:542.64px;font-size:12px;line-height:12px;font-weight:bold;width:44.80px;text-align:center;">329</div><div class="t" style="left:600.50px;top:542.64px;font-size:12px;line-height:12px;font-weight:bold;width:37.90px;text-align:center;">105</div><div class="t" style="left:638.40px;top:542.64px;font-size:12px;line-height:12px;font-weight:bold;width:31.90px;text-align:center;">14</div><div class="t" style="left:670.30px;top:542.64px;font-size:12px;line-height:12px;font-weight:bold;width:51.60px;text-align:center;">434</div><div class="t" style="left:721.90px;top:542.64px;font-size:12px;line-height:12px;width:44.60px;text-align:center;">0</div><div class="t" style="left:766.50px;top:542.64px;font-size:12px;line-height:12px;width:37.80px;text-align:center;">0</div><div class="t" style="left:804.30px;top:542.64px;font-size:12px;line-height:12px;width:31.70px;text-align:center;">0</div><div class="t" style="left:836.00px;top:542.64px;font-size:12px;line-height:12px;width:51.70px;text-align:center;">0</div><div class="t" style="left:887.70px;top:542.64px;font-size:12px;line-height:12px;width:44.40px;text-align:center;">329</div><div class="t" style="left:932.10px;top:542.64px;font-size:12px;line-height:12px;width:38.20px;text-align:center;">105</div><div class="t" style="left:970.30px;top:542.64px;font-size:12px;line-height:12px;width:31.50px;text-align:center;">14</div><div class="t" style="left:1001.80px;top:542.64px;font-size:12px;line-height:12px;width:51.30px;text-align:center;">434</div><div class="t" style="left:226.00px;top:567.57px;font-size:11.5px;line-height:11.5px;">16.</div><div class="t" style="left:248.00px;top:565.68px;font-size:14.55px;line-height:14.55px;">Schönberg Rafael</div><div class="t" style="left:399.30px;top:568.99px;font-size:9.7px;line-height:9.7px;">SKV Kempten</div><div class="t" style="left:504.40px;top:567.94px;font-size:12px;line-height:12px;width:51.30px;text-align:center;">2005</div><div class="t" style="left:555.70px;top:567.14px;font-size:12px;line-height:12px;font-weight:bold;width:44.80px;text-align:center;">334</div><div class="t" style="left:600.50px;top:567.14px;font-size:12px;line-height:12px;font-weight:bold;width:37.90px;text-align:center;">100</div><div class="t" style="left:638.40px;top:567.14px;font-size:12px;line-height:12px;font-weight:bold;width:31.90px;text-align:center;">25</div><div class="t" style="left:670.30px;top:567.14px;font-size:12px;line-height:12px;font-weight:bold;width:51.60px;text-align:center;">434</div><div class="t" style="left:721.90px;top:567.14px;font-size:12px;line-height:12px;width:44.60px;text-align:center;">0</div><div class="t" style="left:766.50px;top:567.14px;font-size:12px;line-height:12px;width:37.80px;text-align:center;">0</div><div class="t" style="left:804.30px;top:567.14px;font-size:12px;line-height:12px;width:31.70px;text-align:center;">0</div><div class="t" style="left:836.00px;top:567.14px;font-size:12px;line-height:12px;width:51.70px;text-align:center;">0</div><div class="t" style="left:887.70px;top:567.14px;font-size:12px;line-height:12px;width:44.40px;text-align:center;">334</div><div class="t" style="left:932.10px;top:567.14px;font-size:12px;line-height:12px;width:38.20px;text-align:center;">100</div><div class="t" style="left:970.30px;top:567.14px;font-size:12px;line-height:12px;width:31.50px;text-align:center;">25</div><div class="t" style="left:1001.80px;top:567.14px;font-size:12px;line-height:12px;width:51.30px;text-align:center;">434</div><div class="t" style="left:226.00px;top:592.07px;font-size:11.5px;line-height:11.5px;">17.</div><div class="t" style="left:248.00px;top:590.18px;font-size:14.55px;line-height:14.55px;">Below Markus</div><div class="t" style="left:399.30px;top:593.49px;font-size:9.7px;line-height:9.7px;">Schwabmünchen</div><div class="t" style="left:504.40px;top:592.44px;font-size:12px;line-height:12px;width:51.30px;text-align:center;">2002</div><div class="t" style="left:555.70px;top:591.64px;font-size:12px;line-height:12px;font-weight:bold;width:44.80px;text-align:center;">342</div><div class="t" style="left:600.50px;top:591.64px;font-size:12px;line-height:12px;font-weight:bold;width:37.90px;text-align:center;">91</div><div class="t" style="left:638.40px;top:591.64px;font-size:12px;line-height:12px;font-weight:bold;width:31.90px;text-align:center;">18</div><div class="t" style="left:670.30px;top:591.64px;font-size:12px;line-height:12px;font-weight:bold;width:51.60px;text-align:center;">433</div><div class="t" style="left:721.90px;top:591.64px;font-size:12px;line-height:12px;width:44.60px;text-align:center;">0</div><div class="t" style="left:766.50px;top:591.64px;font-size:12px;line-height:12px;width:37.80px;text-align:center;">0</div><div class="t" style="left:804.30px;top:591.64px;font-size:12px;line-height:12px;width:31.70px;text-align:center;">0</div><div class="t" style="left:836.00px;top:591.64px;font-size:12px;line-height:12px;width:51.70px;text-align:center;">0</div><div class="t" style="left:887.70px;top:591.64px;font-size:12px;line-height:12px;width:44.40px;text-align:center;">342</div><div class="t" style="left:932.10px;top:591.64px;font-size:12px;line-height:12px;width:38.20px;text-align:center;">91</div><div class="t" style="left:970.30px;top:591.64px;font-size:12px;line-height:12px;width:31.50px;text-align:center;">18</div><div class="t" style="left:1001.80px;top:591.64px;font-size:12px;line-height:12px;width:51.30px;text-align:center;">433</div><div class="t" style="left:226.00px;top:616.57px;font-size:11.5px;line-height:11.5px;">18.</div><div class="t" style="left:248.00px;top:614.68px;font-size:14.55px;line-height:14.55px;">Schmalz Oliver</div><div class="t" style="left:399.30px;top:617.99px;font-size:9.7px;line-height:9.7px;">TuS Fürstenfeldbruck</div><div class="t" style="left:504.40px;top:616.94px;font-size:12px;line-height:12px;width:51.30px;text-align:center;">2002</div><div class="t" style="left:555.70px;top:616.14px;font-size:12px;line-height:12px;width:44.80px;text-align:center;">281</div><div class="t" style="left:600.50px;top:616.14px;font-size:12px;line-height:12px;width:37.90px;text-align:center;">120</div><div class="t" style="left:638.40px;top:616.14px;font-size:12px;line-height:12px;width:31.90px;text-align:center;">17</div><div class="t" style="left:670.30px;top:616.14px;font-size:12px;line-height:12px;width:51.60px;text-align:center;">401</div><div class="t" style="left:721.90px;top:616.14px;font-size:12px;line-height:12px;width:44.60px;text-align:center;">0</div><div class="t" style="left:766.50px;top:616.14px;font-size:12px;line-height:12px;width:37.80px;text-align:center;">0</div><div class="t" style="left:804.30px;top:616.14px;font-size:12px;line-height:12px;width:31.70px;text-align:center;">0</div><div class="t" style="left:836.00px;top:616.14px;font-size:12px;line-height:12px;width:51.70px;text-align:center;">0</div><div class="t" style="left:887.70px;top:616.14px;font-size:12px;line-height:12px;width:44.40px;text-align:center;">281</div><div class="t" style="left:932.10px;top:616.14px;font-size:12px;line-height:12px;width:38.20px;text-align:center;">120</div><div class="t" style="left:970.30px;top:616.14px;font-size:12px;line-height:12px;width:31.50px;text-align:center;">17</div><div class="t" style="left:1001.80px;top:616.14px;font-size:12px;line-height:12px;width:51.30px;text-align:center;">401</div><div class="t" style="left:226.00px;top:641.07px;font-size:11.5px;line-height:11.5px;">19.</div><div class="t" style="left:248.00px;top:639.18px;font-size:14.55px;line-height:14.55px;">Blessing Manuel</div><div class="t" style="left:399.30px;top:642.49px;font-size:9.7px;line-height:9.7px;">SKC Senden</div><div class="t" style="left:504.40px;top:641.44px;font-size:12px;line-height:12px;width:51.30px;text-align:center;">2002</div><div class="t" style="left:555.70px;top:640.64px;font-size:12px;line-height:12px;width:44.80px;text-align:center;">290</div><div class="t" style="left:600.50px;top:640.64px;font-size:12px;line-height:12px;width:37.90px;text-align:center;">104</div><div class="t" style="left:638.40px;top:640.64px;font-size:12px;line-height:12px;width:31.90px;text-align:center;">18</div><div class="t" style="left:670.30px;top:640.64px;font-size:12px;line-height:12px;width:51.60px;text-align:center;">394</div><div class="t" style="left:721.90px;top:640.64px;font-size:12px;line-height:12px;width:44.60px;text-align:center;">0</div><div class="t" style="left:766.50px;top:640.64px;font-size:12px;line-height:12px;width:37.80px;text-align:center;">0</div><div class="t" style="left:804.30px;top:640.64px;font-size:12px;line-height:12px;width:31.70px;text-align:center;">0</div><div class="t" style="left:836.00px;top:640.64px;font-size:12px;line-height:12px;width:51.70px;text-align:center;">0</div><div class="t" style="left:887.70px;top:640.64px;font-size:12px;line-height:12px;width:44.40px;text-align:center;">290</div><div class="t" style="left:932.10px;top:640.64px;font-size:12px;line-height:12px;width:38.20px;text-align:center;">104</div><div class="t" style="left:970.30px;top:640.64px;font-size:12px;line-height:12px;width:31.50px;text-align:center;">18</div><div class="t" style="left:1001.80px;top:640.64px;font-size:12px;line-height:12px;width:51.30px;text-align:center;">394</div><div class="t" style="left:226.00px;top:664.07px;font-size:11.5px;line-height:11.5px;">20.</div><div class="t" style="left:555.70px;top:663.64px;font-size:12px;line-height:12px;width:44.80px;text-align:center;">0</div><div class="t" style="left:600.50px;top:663.64px;font-size:12px;line-height:12px;width:37.90px;text-align:center;">0</div><div class="t" style="left:638.40px;top:663.64px;font-size:12px;line-height:12px;width:31.90px;text-align:center;">0</div><div class="t" style="left:670.30px;top:663.64px;font-size:12px;line-height:12px;width:51.60px;text-align:center;">0</div><div class="t" style="left:721.90px;top:663.64px;font-size:12px;line-height:12px;width:44.60px;text-align:center;">0</div><div class="t" style="left:766.50px;top:663.64px;font-size:12px;line-height:12px;width:37.80px;text-align:center;">0</div><div class="t" style="left:804.30px;top:663.64px;font-size:12px;line-height:12px;width:31.70px;text-align:center;">0</div><div class="t" style="left:836.00px;top:663.64px;font-size:12px;line-height:12px;width:51.70px;text-align:center;">0</div><div class="t" style="left:887.70px;top:663.64px;font-size:12px;line-height:12px;width:44.40px;text-align:center;">0</div><div class="t" style="left:932.10px;top:663.64px;font-size:12px;line-height:12px;width:38.20px;text-align:center;">0</div><div class="t" style="left:970.30px;top:663.64px;font-size:12px;line-height:12px;width:31.50px;text-align:center;">0</div><div class="t" style="left:1001.80px;top:663.64px;font-size:12px;line-height:12px;width:51.30px;text-align:center;">0</div>
</div>
</body></html>
